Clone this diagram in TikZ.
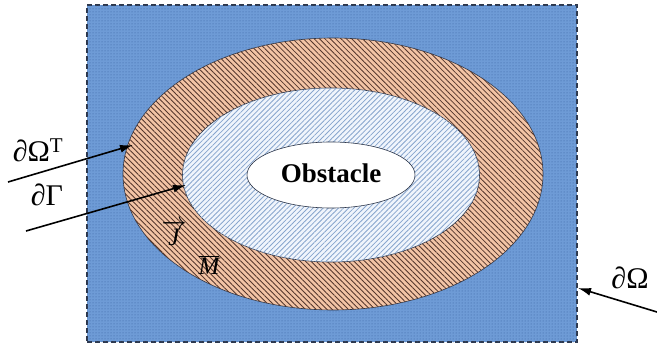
\documentclass[tikz,border=0pt]{standalone}
\usepackage{fontspec}
\setmainfont{Liberation Serif}
\usetikzlibrary{patterns,patterns.meta,arrows.meta,shapes.geometric}
\definecolor{bgblue}{RGB}{110,155,214}
\definecolor{dotblue}{RGB}{55,95,160}
\definecolor{ringfill}{RGB}{243,196,165}
\definecolor{ringline}{RGB}{85,55,45}
\definecolor{innerfill}{RGB}{240,245,252}
\definecolor{innerline}{RGB}{135,165,205}
\definecolor{edge}{RGB}{45,55,75}
\begin{document}
\begin{tikzpicture}[x=1pt,y=-1pt,
  region/.style={ellipse, inner sep=0pt, draw=edge, line width=0.6pt},
  lbl/.style={font=\fontsize{30}{30}\selectfont, inner sep=0pt},
  vlbl/.style={font=\fontsize{25}{25}\selectfont, inner sep=0pt},
  pointer/.style={line width=1.6pt, -{Latex[length=13pt,width=8pt]}}]
\useasboundingbox (0,0) rectangle (657,348);
\node[draw=edge, dashed, dash pattern=on 5pt off 3pt, line width=1.3pt, fill=bgblue,
      postaction={pattern=dots, pattern color=dotblue},
      minimum width=490pt, minimum height=337pt, inner sep=0pt] (domain) at (332,173.5) {};
\node[region, fill=ringfill, minimum width=420pt, minimum height=272pt,
      postaction={pattern={Lines[angle=-45,distance=3.8pt,line width=0.85pt]}, pattern color=ringline}] (ring) at (333,174) {};
\node[region, fill=innerfill, minimum width=297pt, minimum height=174pt,
      postaction={pattern={Lines[angle=45,distance=3.6pt,line width=0.8pt]}, pattern color=innerline}] (inner) at (331,175) {};
\node[region, fill=white, minimum width=168pt, minimum height=66pt] (obst) at (331,175) {};
\node[font=\fontsize{27}{27}\selectfont\bfseries, inner sep=0pt] (obtext) at (331,173) {Obstacle};
\node[lbl] (lOT) at (38,150) {∂Ω\textsuperscript{T}};
\node[lbl] (lG) at (47,195) {∂Γ};
\node[lbl] (lO) at (630,278) {∂Ω};
\node[vlbl] (lJ) at (174,233) {$\overrightarrow{\textit{J}}$};
\node[vlbl] (lM) at (209,265) {$\overline{\textit{M}}$};
\coordinate (s1) at (8,182);
\coordinate (t1) at (133,145);
\coordinate (s2) at (26,231);
\coordinate (t2) at (186,185);
\coordinate (s3) at (657,312);
\coordinate (t3) at (578,288);
\draw[pointer] (s1) -- (t1);
\draw[pointer] (s2) -- (t2);
\draw[pointer] (s3) -- (t3);
\end{tikzpicture}
\end{document}
